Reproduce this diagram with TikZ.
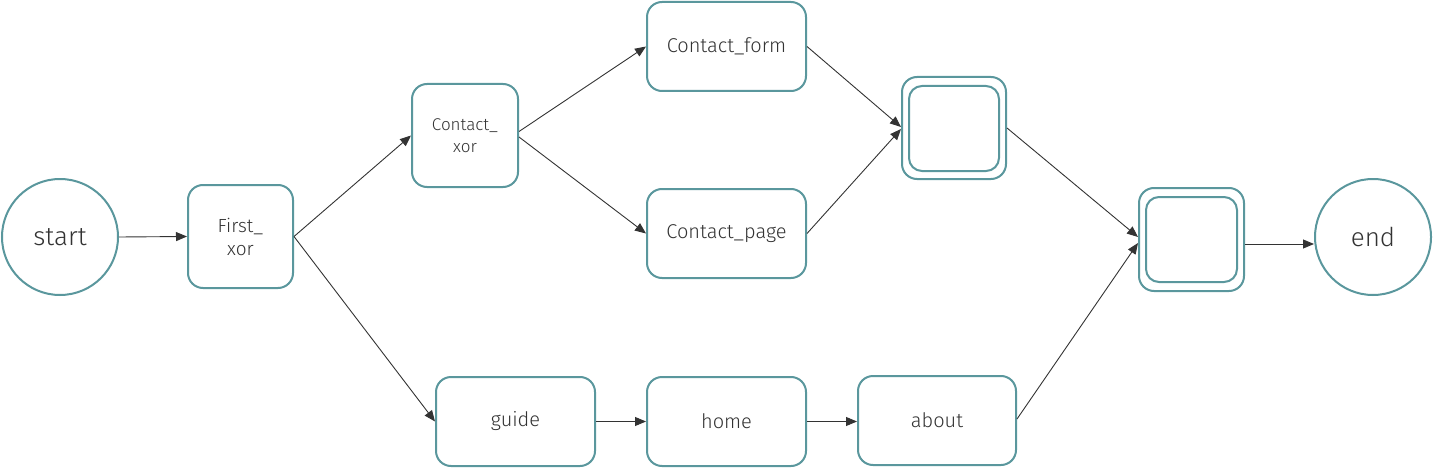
\documentclass[tikz,border=0pt]{standalone}
\usepackage{fontspec}
\setmainfont{Fira Sans}[UprightFont=* Light]
\usetikzlibrary{arrows.meta}
\definecolor{teal}{HTML}{5A979D}
\definecolor{ink}{HTML}{333333}
\tikzset{
  x=1pt,y=-1pt,
  boxst/.style={draw=teal,line width=2pt,rounded corners=15pt,fill=white,text=ink,align=center,inner sep=0pt},
  circst/.style={draw=teal,line width=2pt,circle,fill=white,text=ink,inner sep=0pt,minimum size=116pt,font=\fontsize{26}{30}\selectfont},
  conn/.style={draw=ink,line width=0.9pt,-{Triangle[length=11pt,width=9pt]}},
  lbl/.style={font=\fontsize{20}{24}\selectfont},
}
\begin{document}
\begin{tikzpicture}
\useasboundingbox (0,0) rectangle (1434,468);
\node[circst] (start) at (60,237) {start};
\node[circst] (end) at (1373,237) {end};
\node[boxst,minimum width=105pt,minimum height=103pt,font=\fontsize{19}{23}\selectfont] (first) at (240.5,236.5) {First\_\\xor};
\node[boxst,minimum width=106pt,minimum height=103pt,font=\fontsize{17}{21.5}\selectfont] (cxor) at (465,135.5) {Contact\_\\xor};
\node[boxst,lbl,minimum width=159pt,minimum height=89pt] (cform) at (726.5,46.5) {Contact\_form};
\node[boxst,lbl,minimum width=159pt,minimum height=89pt] (cpage) at (726.5,233.5) {Contact\_page};
\node[boxst,lbl,minimum width=159pt,minimum height=89pt] (guide) at (515.5,421.5) {guide};
\node[boxst,lbl,minimum width=159pt,minimum height=89pt] (home) at (726.5,421.5) {home};
\node[boxst,lbl,minimum width=158pt,minimum height=89pt] (about) at (937,420.5) {about};
\node[boxst,minimum width=104pt,minimum height=102pt] (j1) at (954,128) {};
\node[boxst,minimum width=90pt,minimum height=85pt,rounded corners=13pt] (j1in) at (954,128.5) {};
\node[boxst,minimum width=105pt,minimum height=103pt] (j2) at (1191.5,239.5) {};
\node[boxst,minimum width=91pt,minimum height=85pt,rounded corners=13pt] (j2in) at (1191.5,239.5) {};
\coordinate (j2out) at ([yshift=-4.5pt]j2.east);
\draw[conn] (start.east) -- (first.west);
\draw[conn] (first.east) -- (cxor.west);
\draw[conn] (first.east) -- (guide.west);
\draw[conn] ([yshift=4pt]cxor.east) -- (cform.west);
\draw[conn] ([yshift=-1.5pt]cxor.east) -- (cpage.west);
\draw[conn] (cform.east) -- ([yshift=1pt]j1.west);
\draw[conn] (cpage.east) -- ([yshift=-1pt]j1.west);
\draw[conn] (j1.east) -- ([yshift=2.5pt]j2.west);
\draw[conn] ([yshift=1.5pt]about.east) -- ([yshift=-3.5pt]j2.west);
\draw[conn] (j2out) -- (j2out -| end.west);
\draw[conn] (guide.east) -- (home.west);
\draw[conn] (home.east) -- (home.east -| about.west);
\end{tikzpicture}
\end{document}
